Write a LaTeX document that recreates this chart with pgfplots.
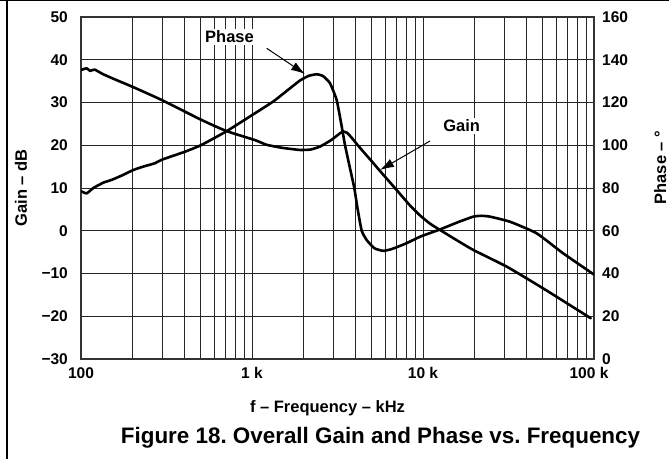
\documentclass[border=0pt]{standalone}
\usepackage{pgfplots}
\pgfplotsset{compat=1.18}
\usepackage{fontspec}
\setmainfont{Liberation Sans}
\usetikzlibrary{arrows.meta}
\frenchspacing

\pgfplotstableread{
f      g
100    37.6
108    38.0
113    37.4
120    37.7
135    36.6
158    35.4
202    33.6
296    30.6
508    25.9
711    23.3
1042   21.2
1219   20.1
1500   19.4
1909   18.9
2200   19.0
2500   19.7
2900   21.2
3270   22.8
3420   23.2
3600   22.9
3800   21.9
4280   19.4
5000   16.3
5600   14.0
7020   9.5
8400   5.9
9600   3.6
11000  1.65
12560  0.2
15000  -1.7
19700  -4.5
30900  -8.4
50500  -13.5
92600  -20.1
95000  -20.4
}\gaintable

\pgfplotstableread{
f      p
100    78.5
108    77.5
118    80
135    82.5
151    83.8
175    86
202    88.4
231    90
271    91.6
296    93.2
406    97
508    100.2
711    106.6
1042   115
1333   120.5
1600   125.5
1909   130.3
2150   132.5
2400   133.2
2600   132.4
2860   129
3130   121
3350   108.6
3500   100
3700   91
3965   80
4150   70
4380   60
4690   55.6
5200   51.8
5860   50.6
6600   51.5
8030   54.2
9600   57.2
12560  60.6
16000  64
19700  66.6
22000  67
24660  66.6
32300  64.2
46200  58.8
66100  49.4
100000 39.5
}\phasetable

\begin{document}
\begin{tikzpicture}
\path[use as bounding box] (0,0) rectangle (669pt,459pt);
\begin{axis}[
  at={(81pt,100pt)}, anchor=south west,
  scale only axis, width=513pt, height=342pt,
  xmode=log, xmin=100, xmax=100000,
  ymin=-30, ymax=50,
  xtick={100,1000,10000,100000},
  xticklabels={100,1 k,10 k,\hspace*{-10pt}100 k},
  ytick={-30,-20,...,50},
  yticklabels={−30,−20,−10,0,10,20,30,40,50},
  grid=both,
  major grid style={black!85, line width=0.9pt},
  minor grid style={black!85, line width=0.9pt},
  major tick length=0pt, minor tick length=0pt,
  axis line style={black!80, line width=1.2pt},
  tick label style={font=\fontsize{15.5}{18}\selectfont\bfseries},
  yticklabel style={anchor=east, inner sep=0pt, xshift=-13pt},
  xticklabel style={anchor=north, inner sep=0pt, yshift=-8pt},
]
\addplot[black, line width=2.6pt, line join=round, smooth, tension=0.3] table[x=f, y=g] {\gaintable};
\end{axis}
\begin{axis}[
  at={(81pt,100pt)}, anchor=south west,
  scale only axis, width=513pt, height=342pt,
  xmode=log, xmin=100, xmax=100000,
  ymin=0, ymax=160,
  axis x line=none,
  axis y line*=right,
  ytick={0,20,40,60,80,100,120,140,160},
  yticklabels={0,20,40,60,80,100,120,140,160},
  major tick length=0pt,
  axis line style={black!80, line width=1.2pt},
  tick label style={font=\fontsize{15.5}{18}\selectfont\bfseries},
  yticklabel style={anchor=west, inner sep=0pt, xshift=8pt},
]
\addplot[black, line width=2.6pt, line join=round, smooth, tension=0.3] table[x=f, y=p] {\phasetable};
\end{axis}
% annotations
\node[fill=white, inner sep=2pt, anchor=base, font=\fontsize{16.5}{19}\selectfont\bfseries] at (229.5pt,416.3pt) {Phase};
\node[fill=white, inner sep=2pt, anchor=base, font=\fontsize{16.5}{19}\selectfont\bfseries] at (461.7pt,327.3pt) {Gain};
\draw[line width=1pt, -{Latex[length=14pt,width=9pt]}] (266.7pt,410.7pt) -- (305pt,385pt);
\draw[line width=1pt, -{Latex[length=14pt,width=9pt]}] (430pt,318pt) -- (380pt,289pt);
% labels
\node[anchor=base, font=\fontsize{16.5}{19}\selectfont\bfseries] at (327.5pt,46.3pt) {f – Frequency – kHz};
\node[anchor=base, font=\fontsize{22.4}{26}\selectfont\bfseries] at (380.5pt,16pt) {Figure 18. Overall Gain and Phase vs. Frequency};
\node[rotate=90, font=\fontsize{16.5}{19}\selectfont\bfseries] at (21pt,271pt) {Gain – dB};
\node[rotate=90, anchor=base, inner sep=0pt, font=\fontsize{16.5}{19}\selectfont\bfseries] at (666pt,291.5pt) {Phase – °};
% frame
\draw[line width=1.3pt] (7pt,0pt) -- (7pt,459pt);
\draw[line width=1.3pt] (0pt,458.4pt) -- (669pt,458.4pt);
\end{tikzpicture}
\end{document}
